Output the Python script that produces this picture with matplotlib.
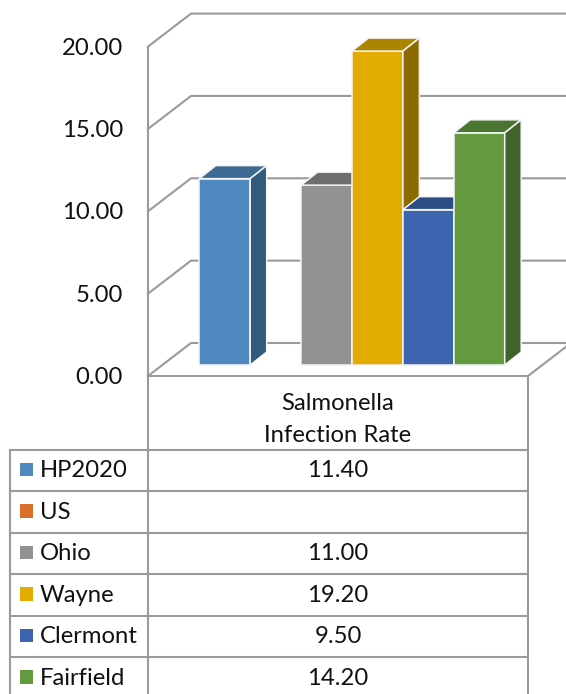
import matplotlib
matplotlib.use('Agg')
import matplotlib.pyplot as plt
from matplotlib.patches import Polygon, Rectangle
from matplotlib.transforms import Affine2D
import numpy as np

plt.rcParams['font.family'] = ['Lato', 'DejaVu Sans']

series = ['HP2020', 'US', 'Ohio', 'Wayne', 'Clermont', 'Fairfield']
values = [11.40, np.nan, 11.00, 19.20, 9.50, 14.20]
value_labels = ['11.40', '', '11.00', '19.20', '9.50', '14.20']
front_colors = ['#5089BF', '#D8702A', '#929292', '#E2AC00', '#3B65AF', '#649A3F']
top_colors = ['#3D6A93', '#A5551F', '#6E6E6E', '#AB8400', '#2C4C85', '#4A7530']
side_colors = ['#335A7B', '#8C4A1B', '#5E5E5E', '#8C6A00', '#25406F', '#3F632A']
ticks = [0, 5, 10, 15, 20]
category = 'Salmonella\nInfection Rate'

W, H = 566, 694
GRID = '#9A9A9A'
TXT = '#111111'
FS = 17.2

# front plane of the wall (pixels)
x0, x1 = 148, 528
wall_y0, wall_scale = 376, 16.47
back_dx, back_dy = 43, 33

# bars: one index step = 51 px, one value unit = 16.35 px
bar_w, unit = 50.9, 16.35
base_y, first_x = 365, 199.3
depth_x, depth_y = 16.5, 13

fig = plt.figure(figsize=(W / 100, H / 100), dpi=100)
ax = fig.add_axes([0, 0, 1, 1])
ax.set_xlim(-(first_x + bar_w / 2) / bar_w, (W - first_x - bar_w / 2) / bar_w)
ax.set_ylim((base_y - H) / unit, base_y / unit)
ax.axis('off')

px = Affine2D().scale(1, -1).translate(0, H) + fig.dpi_scale_trans.inverted() + fig.dpi_scale_trans


def line(xs, ys, lw=1.5, color=GRID, z=1):
    ax.plot(xs, ys, color=color, lw=lw, transform=px, zorder=z,
            solid_capstyle='projecting', clip_on=False)


for t in ticks:
    y = wall_y0 - t * wall_scale
    line([x0, x0 + back_dx, W + 5], [y, y - back_dy, y - back_dy])
    ax.text(123, y + 1.5, '%.2f' % t, transform=px, ha='right', va='center',
            fontsize=FS, color=TXT)
line([x0, x0], [wall_y0 - 20 * wall_scale, H + 2])
line([x1, x1], [wall_y0, H + 2])
line([x0, x1], [wall_y0, wall_y0])
line([x1, x1 + back_dx], [wall_y0, wall_y0 - back_dy])

idx = np.arange(len(series))
dx = depth_x / bar_w
dy = depth_y / unit
for i, v in enumerate(values):
    if np.isnan(v):
        continue
    z = 3 + i
    ax.bar(i, v, width=1, color=front_colors[i], edgecolor='#F4F4F4',
           linewidth=1.1, zorder=z)
    l, r = i - 0.5, i + 0.5
    ax.add_patch(Polygon([(l, v), (r, v), (r + dx, v + dy), (l + dx, v + dy)],
                         facecolor=top_colors[i], edgecolor='#F4F4F4', lw=1.1, zorder=z))
    ax.add_patch(Polygon([(r, 0), (r + dx, dy), (r + dx, v + dy), (r, v)],
                         facecolor=side_colors[i], edgecolor='#F4F4F4', lw=1.1, zorder=z))

ax.text((x0 + x1) / 2, 403, category.split('\n')[0], transform=px, ha='center',
        va='center', fontsize=FS, color=TXT)
ax.text((x0 + x1) / 2, 435, category.split('\n')[1], transform=px, ha='center',
        va='center', fontsize=FS, color=TXT)

rows = [449.5, 491, 532.5, 574, 615.5, 657]
row_h = 41.5
for j, y in enumerate(rows):
    line([9.5, x1], [y, y], z=2)
    c = y + row_h / 2 - 1
    ax.add_patch(Rectangle((19.5, c - 6.5), 13.5, 13.5, transform=px,
                           facecolor=front_colors[j], edgecolor='none', zorder=3))
    ax.text(40, c + 1.5, series[j], transform=px, ha='left', va='center',
            fontsize=FS, color=TXT)
    ax.text((x0 + x1) / 2, c + 1.5, value_labels[j], transform=px, ha='center',
            va='center', fontsize=FS, color=TXT)
line([9.5, 9.5], [rows[0], H + 2])

fig.savefig('out.png', dpi=100)
